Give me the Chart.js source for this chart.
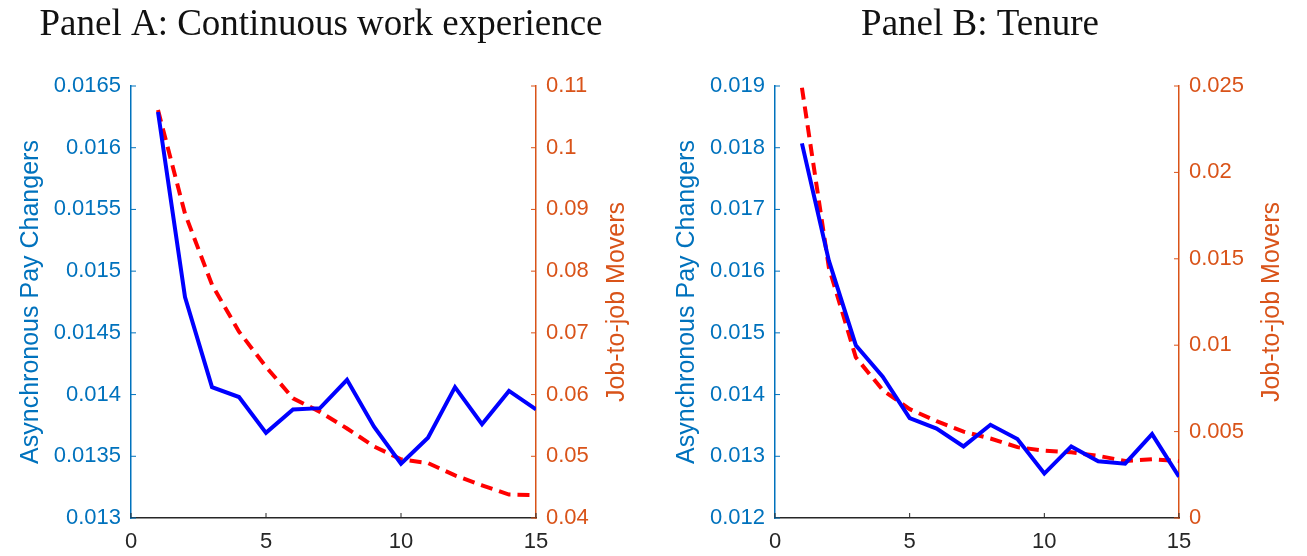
<!DOCTYPE html>
<html>
<head>
<meta charset="utf-8">
<script src="https://cdn.jsdelivr.net/npm/chart.js@4.4.1/dist/chart.umd.min.js"></script>
<style>
  body { margin: 0; background: #fff; }
  #wrap { position: relative; width: 1307px; height: 556px; }
  canvas { position: absolute; top: 0; }
  #panelA { left: 0; }
  #panelB { left: 653px; }
</style>
</head>
<body>
<div id="wrap">
  <canvas id="panelA" width="653" height="556"></canvas>
  <canvas id="panelB" width="654" height="556"></canvas>
</div>
<script>
// years since start (x axis)
const years = [1, 2, 3, 4, 5, 6, 7, 8, 9, 10, 11, 12, 13, 14, 15];
const xTicks = [0, 5, 10, 15];

// Panel A: continuous work experience
const payChangersA = [0.01629, 0.01479, 0.01406, 0.01398, 0.01369, 0.01388, 0.01389, 0.01412, 0.01374, 0.01344, 0.01365, 0.01406, 0.01376, 0.01403, 0.01388];
const jobMoversA = [0.1061, 0.0893, 0.0778, 0.0702, 0.0645, 0.0594, 0.0572, 0.0545, 0.0516, 0.0495, 0.0489, 0.0469, 0.0453, 0.0438, 0.0437];
const leftTicksA = [0.013, 0.0135, 0.014, 0.0145, 0.015, 0.0155, 0.016, 0.0165];
const rightTicksA = [0.04, 0.05, 0.06, 0.07, 0.08, 0.09, 0.1, 0.11];

// Panel B: tenure
const payChangersB = [0.01807, 0.01617, 0.01480, 0.01429, 0.01362, 0.01345, 0.01316, 0.01351, 0.01328, 0.01272, 0.01316, 0.01292, 0.01288, 0.01336, 0.01267];
const jobMoversB = [0.0249, 0.0145, 0.0093, 0.0074, 0.0063, 0.0056, 0.0050, 0.0046, 0.0041, 0.0039, 0.0038, 0.0036, 0.0033, 0.0034, 0.0033];
const leftTicksB = [0.012, 0.013, 0.014, 0.015, 0.016, 0.017, 0.018, 0.019];
const rightTicksB = [0, 0.005, 0.01, 0.015, 0.02, 0.025];

const BLUE_AXIS = '#0072BD';
const ORANGE_AXIS = '#D95319';
const DARK = '#262626';
const SANS = "'Liberation Sans', Arial, sans-serif";

const fmt = v => String(+v.toFixed(5));

// MATLAB style: ticks point inward, right ylabel reads bottom-to-top
const axisDecor = {
  id: 'axisDecor',
  afterDraw(chart, args, opts) {
    const ctx = chart.ctx;
    const { x, yL, yR } = chart.scales;
    const area = chart.chartArea;
    const len = 5;
    ctx.save();
    ctx.lineWidth = 1;

    ctx.strokeStyle = BLUE_AXIS;
    yL.ticks.forEach(t => {
      const py = yL.getPixelForValue(t.value);
      ctx.beginPath(); ctx.moveTo(area.left, py); ctx.lineTo(area.left + len, py); ctx.stroke();
    });
    ctx.strokeStyle = ORANGE_AXIS;
    yR.ticks.forEach(t => {
      const py = yR.getPixelForValue(t.value);
      ctx.beginPath(); ctx.moveTo(area.right, py); ctx.lineTo(area.right - len, py); ctx.stroke();
    });
    ctx.strokeStyle = DARK;
    x.ticks.forEach(t => {
      const px = x.getPixelForValue(t.value);
      ctx.beginPath(); ctx.moveTo(px, area.bottom); ctx.lineTo(px, area.bottom - len); ctx.stroke();
    });

    // axis titles
    const titleFont = '25px ' + SANS;
    const tickFont = '22px ' + SANS;
    const widest = (scale) => {
      ctx.font = tickFont;
      const w = Math.max(...scale.ticks.map(t => ctx.measureText(fmt(t.value)).width));
      ctx.font = titleFont;
      return w;
    };
    const midY = (area.top + area.bottom) / 2;
    ctx.textAlign = 'center';
    ctx.textBaseline = 'middle';

    const lx = area.left - 10 - widest(yL) - 23;
    ctx.save();
    ctx.translate(lx, midY);
    ctx.rotate(-Math.PI / 2);
    ctx.fillStyle = BLUE_AXIS;
    ctx.fillText(opts.leftTitle, 0, 0);
    ctx.restore();

    const rx = area.right + 10 + widest(yR) + 28;
    ctx.save();
    ctx.translate(rx, midY);
    ctx.rotate(-Math.PI / 2);
    ctx.fillStyle = ORANGE_AXIS;
    ctx.fillText(opts.rightTitle, 0, 0);
    ctx.restore();

    ctx.restore();
  }
};

const makePanel = (id, title, pay, movers, leftTicks, rightTicks, box) => {
  const ctx = document.getElementById(id).getContext('2d');
  return new Chart(ctx, {
    type: 'line',
    data: {
      datasets: [{
        label: 'Asynchronous Pay Changers',
        data: years.map((y, i) => ({ x: y, y: pay[i] })),
        yAxisID: 'yL',
        borderColor: '#0000FF',
        borderWidth: 4,
        pointRadius: 0,
        tension: 0
      }, {
        label: 'Job-to-job Movers',
        data: years.map((y, i) => ({ x: y, y: movers[i] })),
        yAxisID: 'yR',
        borderColor: '#FF0000',
        borderWidth: 4,
        borderDash: [12, 7],
        pointRadius: 0,
        tension: 0
      }]
    },
    options: {
      responsive: false,
      animation: false,
      layout: { padding: { top: 0, left: 0, right: box.padRight, bottom: 0 } },
      plugins: {
        legend: { display: false },
        tooltip: { enabled: false },
        title: {
          display: true,
          text: title,
          color: '#111',
          font: { family: "'Liberation Serif', 'Times New Roman', serif", size: 37, weight: 'normal', lineHeight: 1.2 },
          padding: { top: 3, bottom: 86 - 3 - 37 * 1.2 }
        },
        axisDecor: { leftTitle: 'Asynchronous Pay Changers', rightTitle: 'Job-to-job Movers' }
      },
      scales: {
        x: {
          type: 'linear',
          min: 0,
          max: 15,
          afterBuildTicks: s => { s.ticks = xTicks.map(v => ({ value: v })); },
          afterFit: s => { s.height = 38; },
          grid: { display: false, drawTicks: false },
          border: { display: true, color: DARK, width: 1.5 },
          ticks: { color: DARK, padding: 11, font: { family: SANS, size: 22 }, maxRotation: 0 }
        },
        yL: {
          type: 'linear',
          position: 'left',
          min: leftTicks[0],
          max: leftTicks[leftTicks.length - 1],
          afterBuildTicks: s => { s.ticks = leftTicks.map(v => ({ value: v })); },
          afterFit: s => { s.width = box.left; },
          grid: { display: false, drawTicks: false },
          border: { display: true, color: BLUE_AXIS, width: 1.5 },
          ticks: { color: BLUE_AXIS, padding: 10, font: { family: SANS, size: 22 }, callback: v => fmt(v) }
        },
        yR: {
          type: 'linear',
          position: 'right',
          min: rightTicks[0],
          max: rightTicks[rightTicks.length - 1],
          afterBuildTicks: s => { s.ticks = rightTicks.map(v => ({ value: v })); },
          afterFit: s => { s.width = box.right; },
          grid: { display: false, drawTicks: false },
          border: { display: true, color: ORANGE_AXIS, width: 1.5 },
          ticks: { color: ORANGE_AXIS, padding: 10, font: { family: SANS, size: 22 }, callback: v => fmt(v) }
        }
      }
    },
    plugins: [axisDecor]
  });
};

makePanel('panelA', 'Panel A: Continuous work experience', payChangersA, jobMoversA, leftTicksA, rightTicksA, { left: 131, right: 106, padRight: 11 });
makePanel('panelB', 'Panel B: Tenure', payChangersB, jobMoversB, leftTicksB, rightTicksB, { left: 122, right: 128, padRight: 0 });
</script>
</body>
</html>
